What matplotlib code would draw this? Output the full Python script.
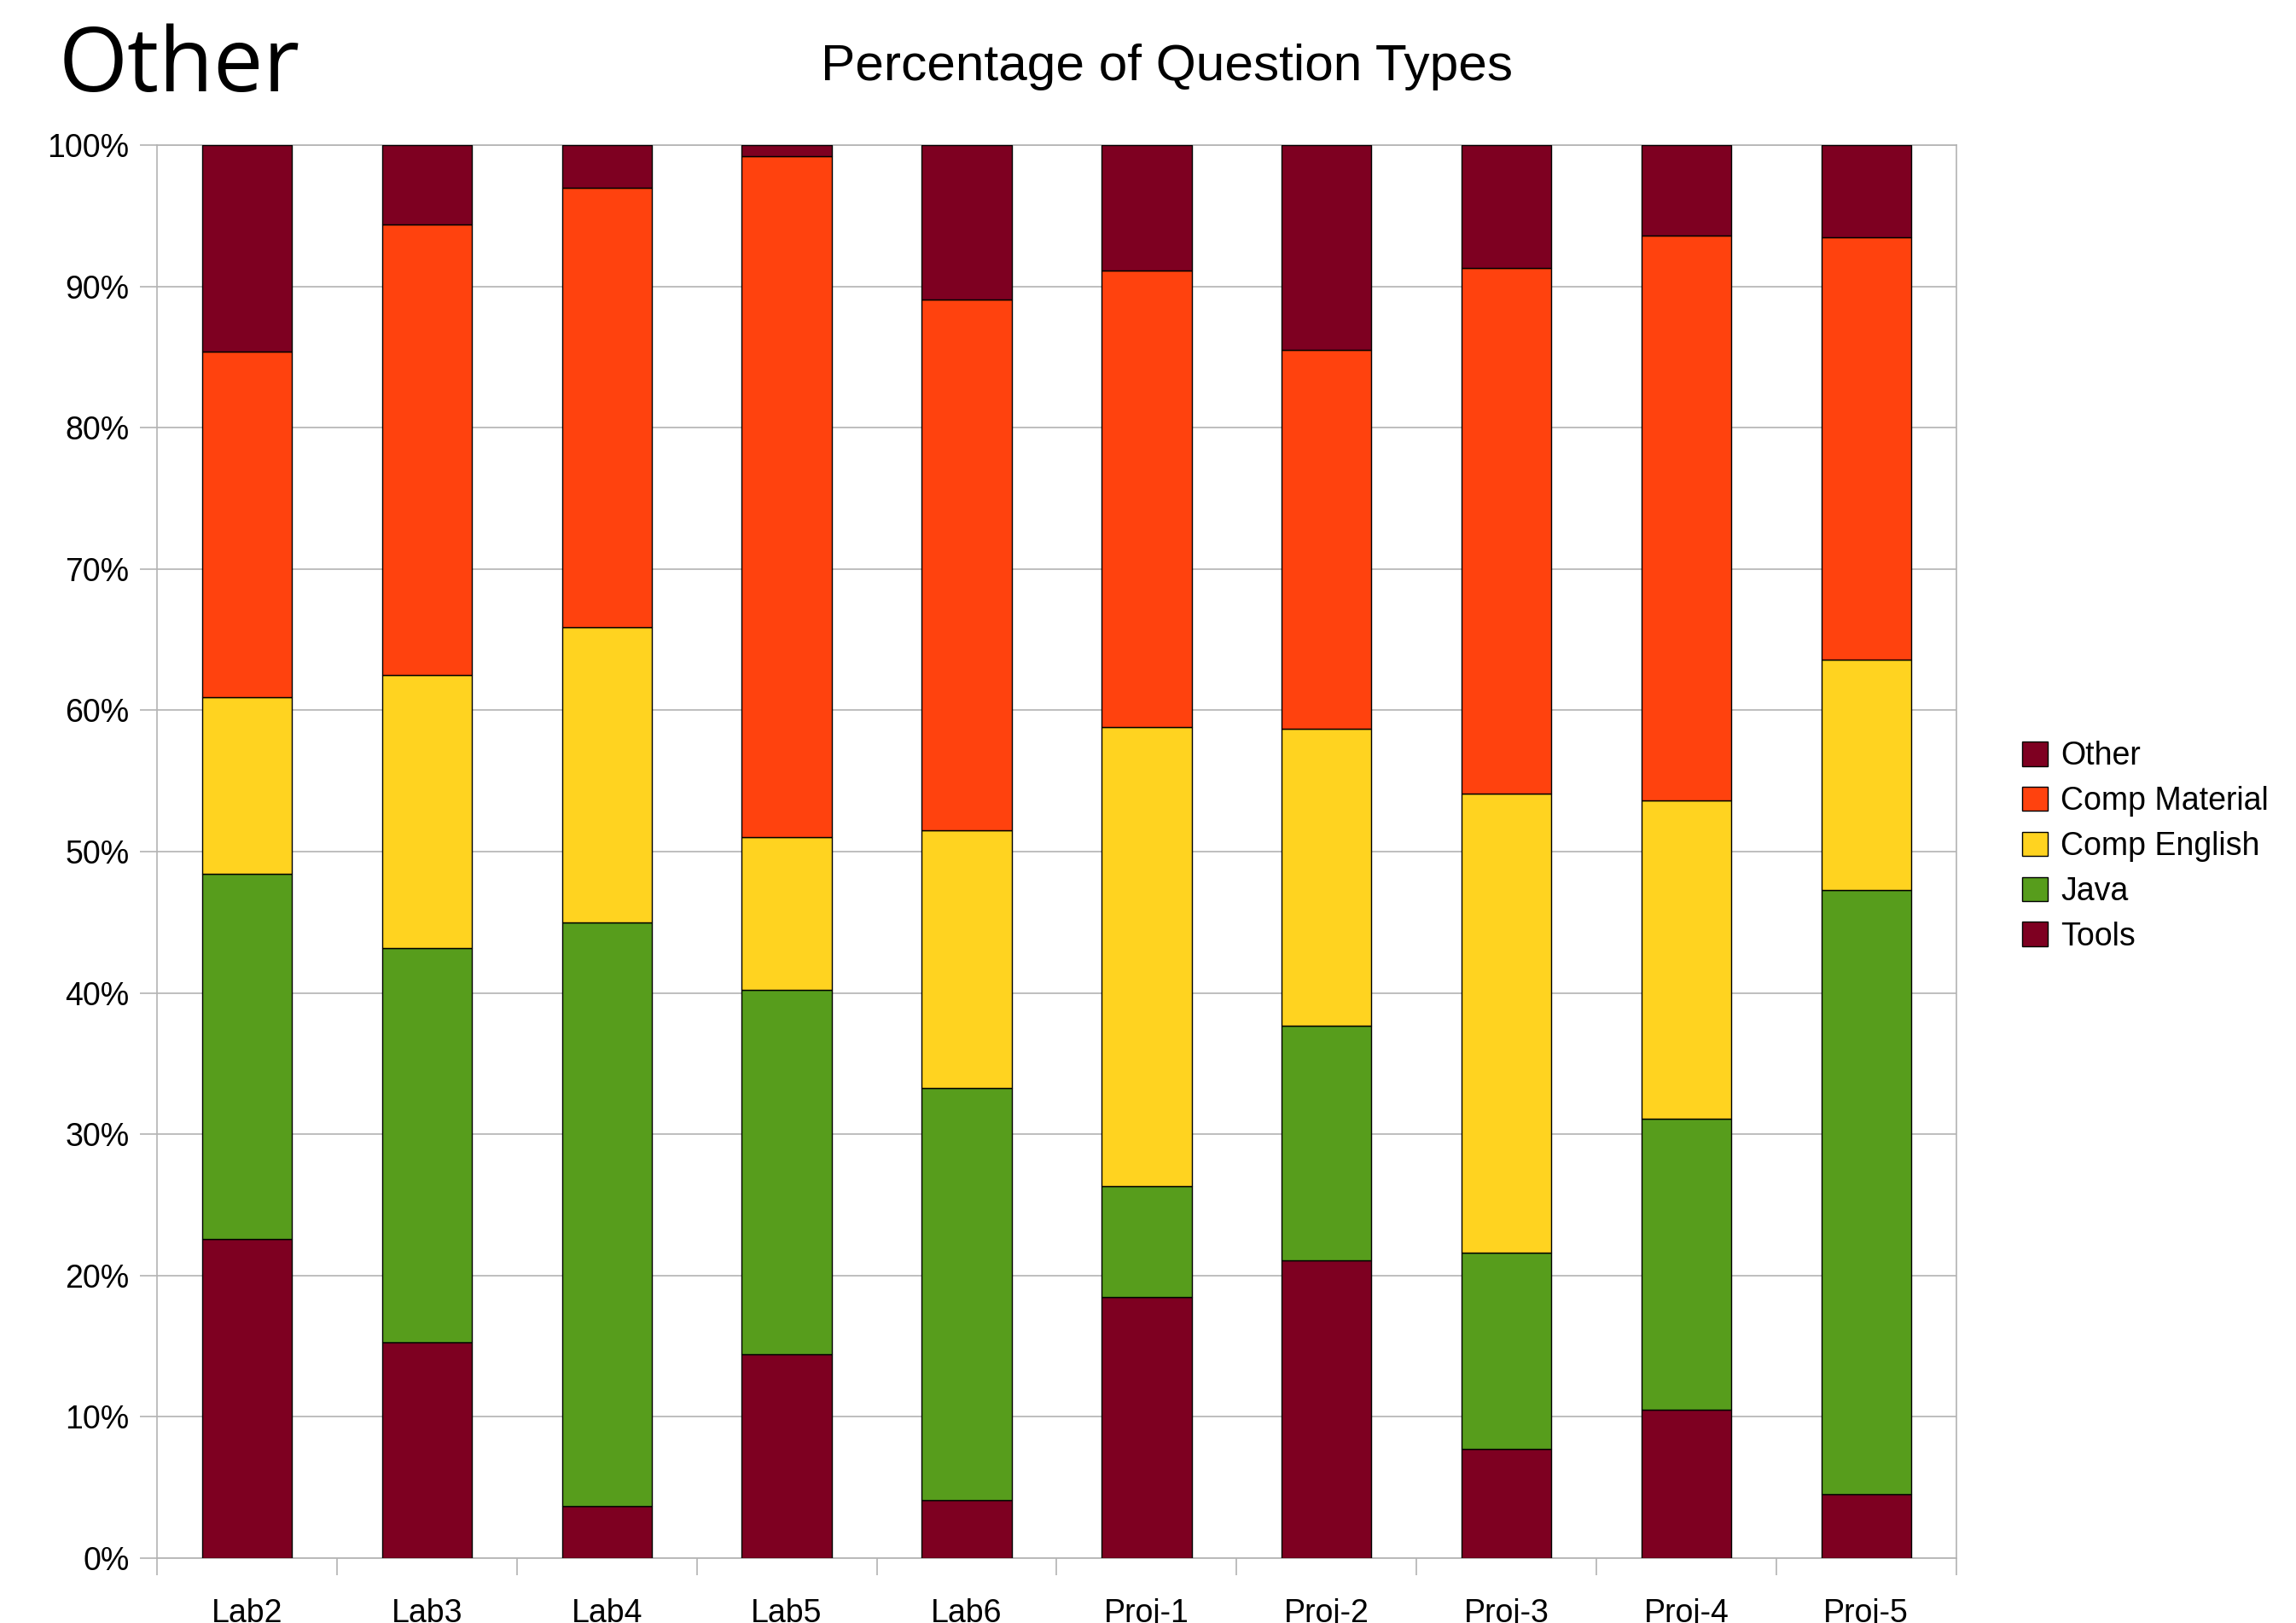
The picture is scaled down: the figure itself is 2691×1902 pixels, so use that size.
import matplotlib.pyplot as plt
import numpy as np

categories = ['Lab2', 'Lab3', 'Lab4', 'Lab5', 'Lab6', 'Proj-1', 'Proj-2', 'Proj-3', 'Proj-4', 'Proj-5']
tools = [22.6, 15.3, 3.7, 14.4, 4.1, 18.5, 21.1, 7.7, 10.5, 4.5]
java = [25.8, 27.9, 41.3, 25.8, 29.2, 7.8, 16.6, 13.9, 20.6, 42.8]
compEnglish = [12.5, 19.3, 20.9, 10.8, 18.2, 32.5, 21.0, 32.5, 22.5, 16.3]
compMaterial = [24.5, 31.9, 31.1, 48.2, 37.6, 32.3, 26.8, 37.2, 40.0, 29.9]
other = [14.6, 5.6, 3.0, 0.8, 10.9, 8.9, 14.5, 8.7, 6.4, 6.5]

series = [
  ('Tools', tools, '#7e0021'),
  ('Java', java, '#579d1c'),
  ('Comp English', compEnglish, '#ffd320'),
  ('Comp Material', compMaterial, '#ff420e'),
  ('Other', other, '#7e0021'),
]

plt.rcParams['font.family'] = ['Liberation Sans', 'DejaVu Sans']

fig = plt.figure(figsize=(26.91, 19.02), dpi=100)
ax = fig.add_axes([0.0684, 0.040, 0.7836, 0.8706])

x = np.arange(len(categories))
bottom = np.zeros(len(categories))
handles = []
for name, vals, color in series:
  vals = np.array(vals)
  b = ax.bar(x, vals, 0.5, bottom=bottom, color=color, edgecolor='black', linewidth=1.0, label=name, zorder=3)
  handles.append(b)
  bottom = bottom + vals

ax.set_xlim(-0.5, len(categories) - 0.5)
ax.set_ylim(0, 100)
ax.set_yticks(np.arange(0, 101, 10))
ax.set_yticklabels([f'{v}%' for v in range(0, 101, 10)])
ax.set_xticks(x)
ax.set_xticklabels(categories)
ax.set_xticks(np.arange(-0.5, len(categories), 1), minor=True)
ax.tick_params(axis='x', which='major', length=0, pad=34, labelsize=27)
ax.tick_params(axis='x', which='minor', length=14.4, width=1.2, color='#b3b3b3')
ax.tick_params(axis='y', length=14.4, width=1.2, color='#b3b3b3', pad=9, labelsize=27)
ax.grid(axis='y', color='#b3b3b3', linewidth=1.2, zorder=0)
for s in ax.spines.values():
  s.set_color('#b3b3b3')
  s.set_linewidth(1.2)

fig.text(0.0256, 0.944, 'Other', fontsize=75, family=['Open Sans', 'DejaVu Sans'], ha='left', va='baseline')
fig.text(0.508, 0.9505, 'Percentage of Question Types', fontsize=43.5, ha='center', va='baseline')

ax.legend(handles[::-1], [s[0] for s in series][::-1], loc='upper left',
  bbox_to_anchor=(0.8807, 0.5435), bbox_transform=fig.transFigure, frameon=False,
  fontsize=27, borderpad=0, handlelength=0.8, handleheight=0.8, handletextpad=0.4,
  labelspacing=0.45, borderaxespad=0)

plt.savefig('out.png')
plt.close()
